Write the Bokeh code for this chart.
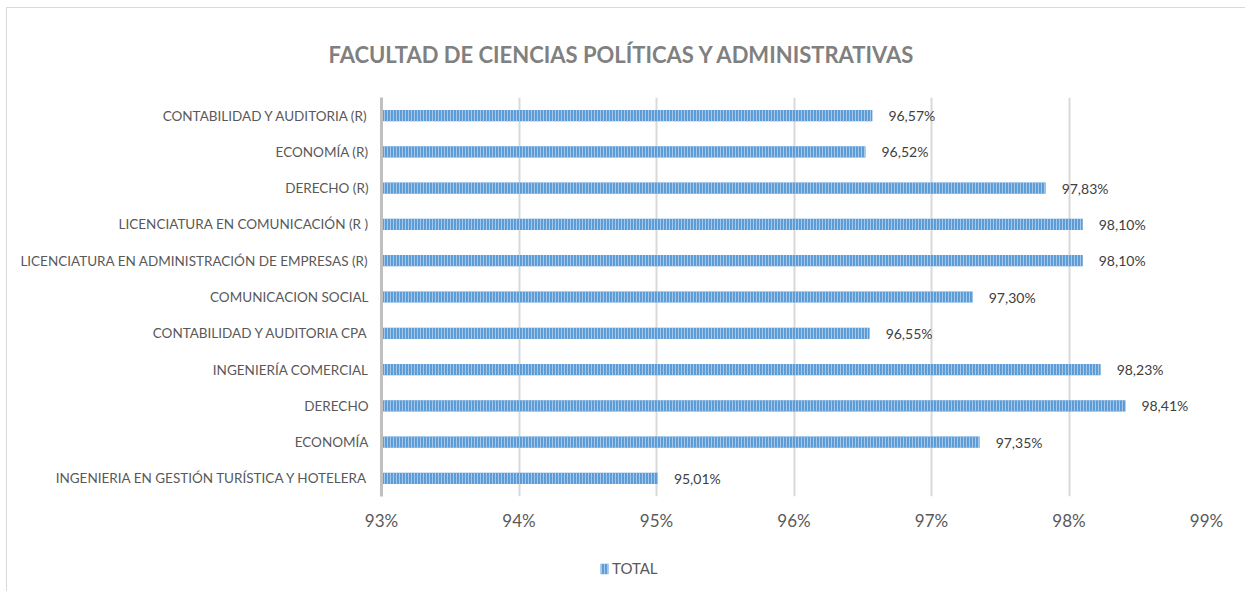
from bokeh.plotting import figure
from bokeh.layouts import column
from bokeh.models import FactorRange, Range1d, Title, Legend, LegendItem, FixedTicker, CustomJSTickFormatter, ColumnDataSource
from bokeh.core.properties import value
from bokeh.embed import file_html
from bokeh.resources import INLINE

categories = [
    "CONTABILIDAD Y AUDITORIA (R)",
    "ECONOMÍA (R)",
    "DERECHO (R)",
    "LICENCIATURA EN COMUNICACIÓN (R )",
    "LICENCIATURA EN ADMINISTRACIÓN DE EMPRESAS (R)",
    "COMUNICACION SOCIAL",
    "CONTABILIDAD Y AUDITORIA CPA",
    "INGENIERÍA COMERCIAL",
    "DERECHO",
    "ECONOMÍA",
    "INGENIERIA EN GESTIÓN TURÍSTICA Y HOTELERA",
]
totals = [96.57, 96.52, 97.83, 98.10, 98.10, 97.30, 96.55, 98.23, 98.41, 97.35, 95.01]
x_ticks = [93, 94, 95, 96, 97, 98, 99]
series_name = "TOTAL"
title_text = "FACULTAD DE CIENCIAS POLÍTICAS Y ADMINISTRATIVAS"

FONT = "Lato"
labels = [f"{v:.2f}".replace(".", ",") + "%" for v in totals]
base = [x_ticks[0]] * len(totals)

src = ColumnDataSource(dict(cat=categories, val=totals, base=base, lab=labels))

BAR_STYLE = dict(fill_color="#5b9bd5", line_color=None,
                 hatch_pattern="vertical_line", hatch_color="#a7c8ea",
                 hatch_scale=3, hatch_weight=1.1)

p = figure(
    width=1238, height=547,
    y_range=FactorRange(factors=categories[::-1], range_padding=0),
    x_range=Range1d(x_ticks[0], x_ticks[-1]),
    output_backend="svg", toolbar_location=None,
    min_border_left=374, min_border_right=39, min_border_top=89, min_border_bottom=59,
)
p.outline_line_color = None
p.background_fill_color = "white"
p.border_fill_color = "white"

r = p.hbar(y="cat", left="base", right="val", height=0.31, source=src, **BAR_STYLE)

p.text(x="val", y="cat", text="lab", source=src, x_offset=16,
       text_align="left", text_baseline="middle",
       text_font=value(FONT), text_font_size="14px", text_color="#404040")

# axes
p.xaxis.ticker = FixedTicker(ticks=x_ticks)
p.xaxis.formatter = CustomJSTickFormatter(code="return tick.toFixed(0) + '%';")
p.xaxis.axis_line_color = None
p.xaxis.major_tick_line_color = None
p.xaxis.minor_tick_line_color = None
p.xaxis.major_label_standoff = 7
p.xaxis.major_label_text_font = FONT
p.xaxis.major_label_text_font_size = "17px"
p.xaxis.major_label_text_color = "#595959"

p.yaxis.axis_line_color = "#bfbfbf"
p.yaxis.axis_line_width = 3
p.yaxis.major_tick_line_color = None
p.yaxis.minor_tick_line_color = None
p.yaxis.major_label_standoff = 7
p.yaxis.major_label_text_font = FONT
p.yaxis.major_label_text_font_size = "13.5px"
p.yaxis.major_label_text_color = "#595959"

p.xgrid.grid_line_color = "#d9d9d9"
p.xgrid.grid_line_width = 2
p.ygrid.grid_line_color = None

# title
p.add_layout(Title(text=title_text, align="left", offset=-53, standoff=60,
                   text_font=FONT, text_font_style="bold", text_font_size="22px",
                   text_color="#808080"), "above")

# legend strip (zero-size proxy bar outside the strip's range; only its swatch shows)
p2 = figure(width=1238, height=36, x_range=Range1d(0, 1), y_range=Range1d(0, 1),
            output_backend="svg", toolbar_location=None,
            min_border_left=0, min_border_right=0, min_border_top=0, min_border_bottom=0)
p2.axis.visible = False
p2.grid.visible = False
p2.outline_line_color = None
p2.background_fill_color = "white"
p2.border_fill_color = "white"
r2 = p2.hbar(y=[-5], left=[-5], right=[-5], height=0.3, **BAR_STYLE)

legend = Legend(items=[LegendItem(label=series_name, renderers=[r2])],
                location=(218, 14), orientation="horizontal",
                label_text_font=FONT, label_text_font_size="15px", label_text_color="#595959",
                glyph_width=10, glyph_height=13, label_standoff=3, label_height=16,
                padding=0, margin=0, spacing=0, border_line_color=None, background_fill_alpha=0)
p2.add_layout(legend)

layout = column(p, p2, spacing=0)
layout.styles = {"border-left": "1px solid #d9d9d9", "border-top": "1px solid #d9d9d9",
                 "margin-left": "6px", "margin-top": "7px"}

open("out.html", "w").write(file_html(layout, INLINE))
